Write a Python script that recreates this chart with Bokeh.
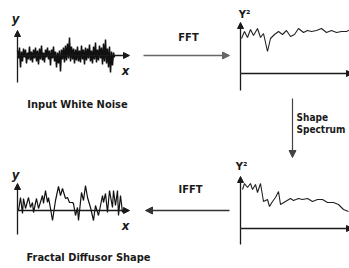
from bokeh.plotting import figure
from bokeh.models import Range1d, Arrow, NormalHead
from bokeh.core.properties import value
from bokeh.embed import file_html
from bokeh.resources import INLINE

# ---------------- data ----------------
# Panel 1: input white noise, amplitude per sample (up positive)
noise_values = [5, -3, 8, -12, 4, -6, 7, -2, 6, -8, 3, -4, 9, -5,
                4, -7, 6, -3, 8, -6, 5, -9, 7, -4, 10, -5, 3, -7, 6, -2,
                8, -4, 5, -10, 6, -3, 9, -6, 4, -12, 3, -8, 5, -16, 6,
                -4, 8, -7, 10, -5, 12, -3, 18, -6, 9, -4, 7, -8, 6, -5,
                9, -6, 5, -7, 10, -4, 6, -9, 8, -5, 7, -3, 11, -6, 5,
                -8, 9, -4, 13, -7, 6, -5, 10, -3, 8, -9, 12, -6, 16, -8,
                7, -12, 9, -17, 4, -10, 3, -2]

# Panel 2: FFT spectrum (frequency, magnitude)
fft_freq = [1, 4, 7, 10, 13, 17, 20, 23, 27, 30, 34, 38, 42, 46, 50, 54, 58,
            63, 67, 71, 76, 81, 86, 91, 96, 101, 106, 110]
fft_mag = [35, 42, 36, 44, 38, 45, 36, 40, 22, 35, 39, 42, 39, 43, 37, 39, 45,
           41, 43, 42, 43, 45, 41, 43, 41, 42, 42, 44]

# Panel 3: shaped spectrum (frequency, magnitude)
shaped_freq = [2, 4, 7, 10, 12, 15, 17, 20, 23, 27, 29, 32, 35, 38, 40, 45, 50,
               53, 58, 62, 67, 72, 77, 82, 87, 93, 98, 103, 108]
shaped_mag = [39, 45, 41, 45, 39, 44, 36, 45, 27, 29, 22, 27, 31, 37, 24, 27,
              30, 28, 30, 29, 30, 27, 29, 29, 26, 26, 24, 19, 17]

# Panel 4: fractal diffusor shape (position, height)
shape_pos = [1, 3, 5, 6, 8, 11, 13, 15, 16, 19, 21, 25, 26, 28, 30, 31, 33, 35,
             38, 41, 43, 45, 48, 50, 52, 55, 56, 58, 60, 61, 64, 66, 68, 70, 73,
             76, 78, 81, 85, 86, 88, 90, 92, 95, 96, 98, 100, 101, 103, 105]
shape_height = [0, 13, -3, 12, 2, 13, 3, 8, -2, 12, 2, 15, 7, 20, 8, 13, 2, -10,
                10, 24, 15, 22, 12, 13, 8, 8, 7, -5, 3, -10, 18, 10, 25, 13, 3,
                -10, 5, -5, 15, 8, 17, -2, 20, 3, 20, 5, 20, -5, 15, -2]

labels_main = ["Input White Noise", "Fractal Diffusor Shape"]
labels_ops = ["FFT", "IFFT"]
labels_shape = ["Shape", "Spectrum"]

# ---------------- figure ----------------
p = figure(width=349, height=268, x_range=Range1d(0, 349), y_range=Range1d(268, 0),
           output_backend="svg", toolbar_location=None,
           x_axis_type=None, y_axis_type=None, min_border=0)
p.grid.visible = False
p.outline_line_color = None
p.background_fill_color = "white"

AX = "#1a1a1a"
def arrow(x0, y0, x1, y1, color=AX, width=1.3, size=6):
    p.add_layout(Arrow(end=NormalHead(size=size, line_color=color, fill_color=color, line_width=1),
                       x_start=x0, y_start=y0, x_end=x1, y_end=y1,
                       line_color=color, line_width=width))

def axes(ox, oy, ytop, ybot, xend):
    p.line([ox, ox], [ybot, oy], line_color=AX, line_width=1.3)
    arrow(ox, oy, ox, ytop)
    arrow(ox, oy, xend, oy)

# Panel 1
ox1, oy1 = 17, 55
axes(ox1, oy1, 30, 82, 129)
p.line([ox1 + i for i in range(len(noise_values))], [oy1 - v for v in noise_values],
       line_color="#111111", line_width=1.5)

# Panel 2
ox2, oy2 = 240, 73
axes(ox2, oy2, 22, 90, 352)
p.line([ox2 + f for f in fft_freq], [oy2 - m for m in fft_mag], line_color="#222222", line_width=1.1)

# Panel 3
ox3, oy3 = 240, 228
axes(ox3, oy3, 176, 244, 352)
p.line([ox3 + f for f in shaped_freq], [oy3 - m for m in shaped_mag], line_color="#222222", line_width=1.1)

# Panel 4
ox4, oy4 = 17, 210
axes(ox4, oy4, 183, 234, 129)
p.line([ox4 + s for s in shape_pos], [oy4 - h for h in shape_height], line_color="#111111", line_width=1.2)

# operation arrows
arrow(143, 55, 229, 55, color="#666666", width=1.4, size=7)
arrow(229, 210, 145, 210, color="#333333", width=1.4, size=7)
arrow(292, 98, 292, 157, color="#444444", width=1.2, size=7)

FONT = value("DejaVu Sans Condensed")
def txt(xs, ys, ts, size="11px", style="bold", align="center", font=FONT, color="#1a1a1a"):
    p.text(x=xs, y=ys, text=ts, text_align=align, text_baseline="middle",
           text_font=font, text_font_size=value(size), text_font_style=style, text_color=color)

txt([77, 88], [104, 257], labels_main)
txt([188, 190], [37, 189], labels_ops)
txt([296, 296], [117, 129], labels_shape, align="left", size="10px")
txt([15, 125, 15, 125], [18, 70, 174, 225], ["y", "x", "y", "x"], size="13px",
    style="bold italic", font=value("DejaVu Sans Condensed"))
txt([244, 241], [14, 166], ["Y²", "Y²"], size="11px", style="bold")

open("out.html", "w").write(file_html(p, INLINE))
